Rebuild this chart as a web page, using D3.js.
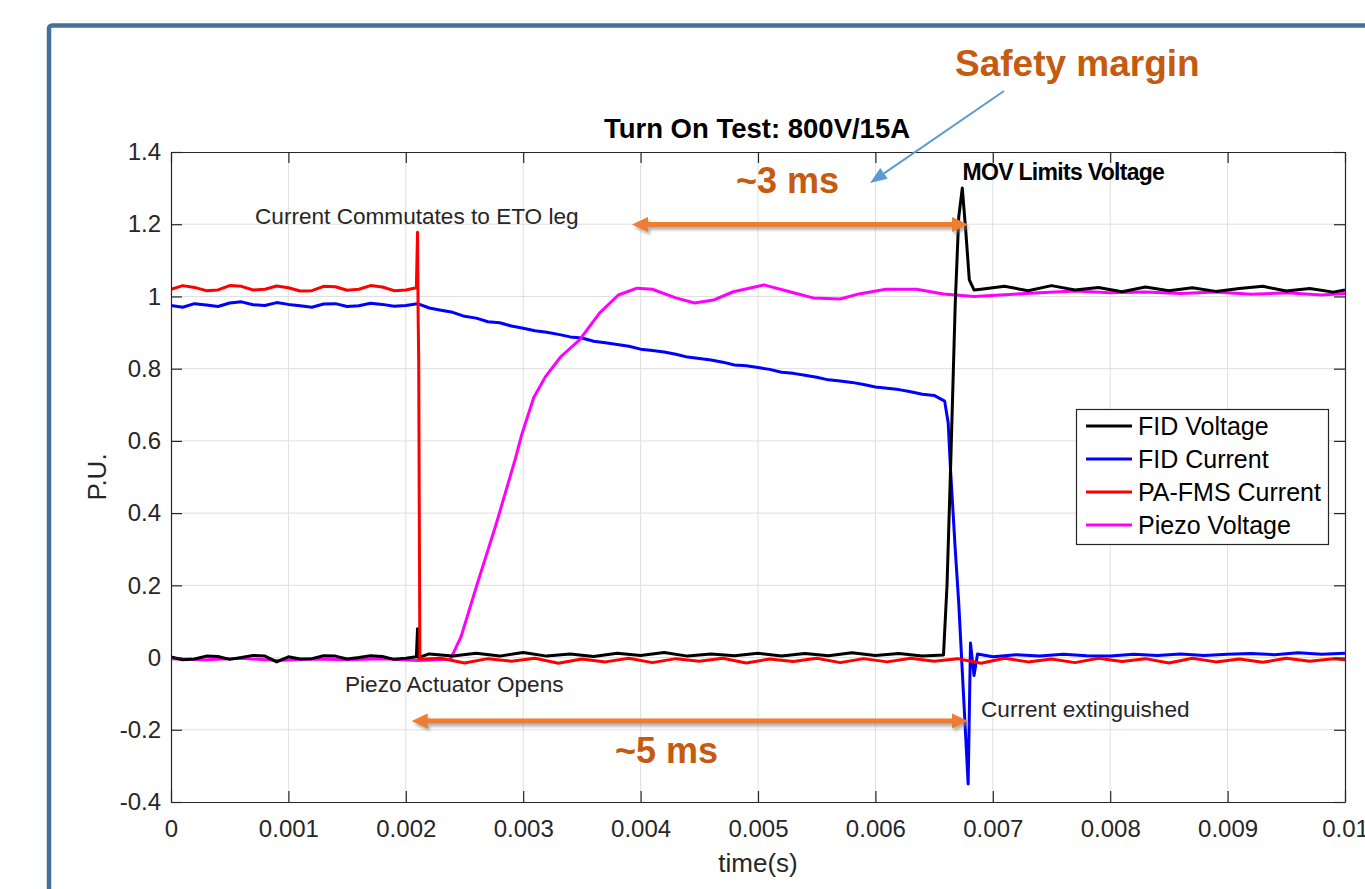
<!DOCTYPE html>
<html>
<head>
<meta charset="utf-8">
<script src="https://cdn.jsdelivr.net/npm/d3@7"></script>
<style>
  body { margin: 0; background: #fff; }
  svg { display: block; font-family: "Liberation Sans", Arial, sans-serif; }
</style>
</head>
<body>
<svg id="chart" width="1365" height="889"></svg>
<script>
// values (time in s, value in P.U.)
var fidVoltage = [
  [0,0.002],[0.0001,-0.006],[0.0002,-0.004],[0.0003,0.004],[0.0004,0.003],[0.0005,-0.005],[0.0006,0.0],
  [0.0007,0.006],[0.0008,0.004],[0.0009,-0.012],[0.001,0.002],[0.0011,-0.004],[0.0012,-0.003],[0.0013,0.005],
  [0.0014,0.004],[0.0015,-0.004],[0.0016,0.0],[0.0017,0.005],[0.0018,0.003],[0.0019,-0.005],[0.002,-0.002],
  [0.00209,0.002],[0.0021,0.08],[0.002105,0.0],[0.0022,0.01],[0.0024,0.004],[0.0026,0.012],[0.0028,0.004],
  [0.003,0.014],[0.0032,0.004],[0.0034,0.01],[0.0036,0.003],[0.0038,0.012],[0.004,0.006],[0.0042,0.014],
  [0.0044,0.004],[0.0046,0.01],[0.0048,0.005],[0.005,0.012],[0.0052,0.004],[0.0054,0.011],[0.0056,0.005],
  [0.0058,0.013],[0.006,0.006],[0.0062,0.011],[0.0064,0.004],[0.00658,0.007],[0.00661,0.2],[0.00664,0.52],
  [0.00668,0.98],[0.00671,1.22],[0.00674,1.30],[0.00677,1.18],[0.0068,1.046],[0.00684,1.018],[0.0069,1.02],
  [0.0071,1.028],[0.0073,1.016],[0.0075,1.03],[0.0077,1.018],[0.0079,1.025],[0.0081,1.013],[0.0083,1.026],
  [0.0085,1.016],[0.0087,1.024],[0.0089,1.014],[0.0091,1.022],[0.0093,1.028],[0.0095,1.015],[0.0097,1.022],
  [0.0099,1.012],[0.01,1.018]
];
var fidCurrent = [
  [0,0.975],[0.0001,0.97],[0.0002,0.98],[0.0003,0.976],[0.0004,0.972],[0.0005,0.982],[0.0006,0.985],
  [0.0007,0.977],[0.0008,0.975],[0.0009,0.983],[0.001,0.978],[0.0011,0.974],[0.0012,0.97],[0.0013,0.979],
  [0.0014,0.98],[0.0015,0.972],[0.0016,0.974],[0.0017,0.981],[0.0018,0.978],[0.0019,0.973],[0.002,0.975],
  [0.0021,0.98],[0.0022,0.968],[0.0023,0.962],[0.0024,0.956],[0.0025,0.945],[0.0026,0.94],[0.0027,0.93],
  [0.0028,0.927],[0.0029,0.918],[0.003,0.912],[0.0031,0.905],[0.0032,0.901],[0.0033,0.895],[0.0034,0.888],
  [0.0035,0.885],[0.0036,0.876],[0.0037,0.872],[0.0038,0.867],[0.0039,0.862],[0.004,0.854],[0.0041,0.85],
  [0.0042,0.846],[0.0043,0.84],[0.0044,0.832],[0.0045,0.828],[0.0046,0.824],[0.0047,0.818],[0.0048,0.81],
  [0.0049,0.808],[0.005,0.803],[0.0051,0.798],[0.0052,0.79],[0.0053,0.787],[0.0054,0.782],[0.0055,0.776],
  [0.0056,0.769],[0.0057,0.766],[0.0058,0.762],[0.0059,0.756],[0.006,0.749],[0.0061,0.746],[0.0062,0.742],
  [0.0063,0.736],[0.0064,0.729],[0.0065,0.726],[0.00659,0.71],
  [0.00662,0.65],[0.00664,0.52],[0.00668,0.3],[0.00671,0.15],[0.00675,-0.1],[0.00679,-0.35],[0.00681,0.04],
  [0.00684,-0.05],[0.00687,0.01],[0.007,0.002],[0.0072,0.008],[0.0074,0.004],[0.0076,0.009],[0.0078,0.005],
  [0.008,0.004],[0.0082,0.009],[0.0084,0.006],[0.0086,0.01],[0.0088,0.006],[0.009,0.009],[0.0092,0.011],
  [0.0094,0.008],[0.0096,0.013],[0.0098,0.009],[0.01,0.012]
];
var paFmsCurrent = [
  [0,1.02],[0.0001,1.03],[0.0002,1.025],[0.0003,1.016],[0.0004,1.018],[0.0005,1.03],[0.0006,1.028],
  [0.0007,1.018],[0.0008,1.02],[0.0009,1.029],[0.001,1.024],[0.0011,1.015],[0.0012,1.016],[0.0013,1.028],
  [0.0014,1.027],[0.0015,1.017],[0.0016,1.02],[0.0017,1.03],[0.0018,1.026],[0.0019,1.016],[0.002,1.018],
  [0.00209,1.024],[0.0021,1.178],[0.002105,0.95],
  [0.00211,0.82],[0.002115,0.38],[0.00212,-0.005],[0.0023,-0.002],[0.0025,-0.015],[0.0027,-0.003],
  [0.0029,-0.01],[0.0031,-0.002],[0.0033,-0.016],[0.0035,-0.004],[0.0037,-0.012],[0.0039,-0.002],
  [0.0041,-0.014],[0.0043,-0.003],[0.0045,-0.01],[0.0047,-0.002],[0.0049,-0.015],[0.0051,-0.004],
  [0.0053,-0.011],[0.0055,-0.002],[0.0057,-0.014],[0.0059,-0.003],[0.0061,-0.012],[0.0063,-0.002],
  [0.0065,-0.01],[0.0067,-0.003],[0.0069,-0.016],[0.0071,-0.002],[0.0073,-0.012],[0.0075,-0.004],
  [0.0077,-0.014],[0.0079,-0.002],[0.0081,-0.011],[0.0083,-0.003],[0.0085,-0.015],[0.0087,-0.002],
  [0.0089,-0.012],[0.0091,-0.004],[0.0093,-0.013],[0.0095,-0.002],[0.0097,-0.01],[0.0099,-0.003],[0.01,-0.006]
];
var piezoVoltage = [
  [0,-0.003],[0.0003,-0.006],[0.0006,-0.002],[0.0009,-0.008],[0.0012,-0.004],[0.0015,-0.006],[0.0018,-0.003],
  [0.0021,-0.008],[0.00238,-0.005],[0.00247,0.057],[0.0026,0.195],[0.00277,0.37],[0.00293,0.547],
  [0.00299,0.62],[0.00309,0.72],[0.00319,0.778],[0.00332,0.833],[0.00348,0.88],[0.00365,0.954],
  [0.00381,1.004],[0.00397,1.023],[0.0041,1.02],[0.0043,0.996],[0.00446,0.982],[0.00462,0.99],
  [0.00479,1.013],[0.00505,1.032],[0.00527,1.013],[0.00547,0.996],[0.0057,0.993],[0.00586,1.007],
  [0.00609,1.02],[0.00635,1.02],[0.00658,1.007],[0.00684,1.0],[0.0071,1.005],[0.0074,1.01],[0.0077,1.015],
  [0.008,1.01],[0.0083,1.012],[0.0086,1.008],[0.0089,1.012],[0.0092,1.006],[0.0095,1.01],[0.0098,1.004],[0.01,1.008]
];

var seriesNames = ["FID Voltage", "FID Current", "PA-FMS Current", "Piezo Voltage"];
var seriesColors = ["#000000", "#0000ff", "#ff0000", "#ff00ff"];
var seriesData = [fidVoltage, fidCurrent, paFmsCurrent, piezoVoltage];
var drawOrder = [1, 3, 0, 2];

var xTicks = [0, 0.001, 0.002, 0.003, 0.004, 0.005, 0.006, 0.007, 0.008, 0.009, 0.01];
var xTickLabels = ["0", "0.001", "0.002", "0.003", "0.004", "0.005", "0.006", "0.007", "0.008", "0.009", "0.01"];
var yTicks = [-0.4, -0.2, 0, 0.2, 0.4, 0.6, 0.8, 1, 1.2, 1.4];
var yTickLabels = ["-0.4", "-0.2", "0", "0.2", "0.4", "0.6", "0.8", "1", "1.2", "1.4"];

var svg = d3.select("#chart");
var pLeft = 171, pRight = 1345, pTop = 152, pBottom = 802;
var x = d3.scaleLinear().domain([0, 0.01]).range([pLeft, pRight]);
var y = d3.scaleLinear().domain([-0.4, 1.4]).range([pBottom, pTop]);
var axisColor = "#262626";

// slide frame
svg.append("rect")
    .attr("x", 49).attr("y", 25.5)
    .attr("width", 1400).attr("height", 1000)
    .attr("rx", 3)
    .attr("fill", "none")
    .attr("stroke", "#41719c")
    .attr("stroke-width", 4.5);

var defs = svg.append("defs");
defs.append("filter").attr("id", "shadow")
    .attr("x", "-10%").attr("y", "-100%").attr("width", "120%").attr("height", "300%")
  .append("feDropShadow")
    .attr("dx", 2).attr("dy", 3).attr("stdDeviation", 1.5)
    .attr("flood-color", "#808080").attr("flood-opacity", 0.6);
defs.append("clipPath").attr("id", "plotclip")
  .append("rect").attr("x", pLeft).attr("y", pTop).attr("width", pRight - pLeft).attr("height", pBottom - pTop);

// grid
var grid = svg.append("g");
grid.selectAll(".gx").data(xTicks.slice(1, -1)).enter().append("line")
    .attr("x1", function(d) { return x(d); }).attr("x2", function(d) { return x(d); })
    .attr("y1", pTop).attr("y2", pBottom)
    .attr("stroke", "#dfdfdf").attr("stroke-width", 1);
grid.selectAll(".gy").data(yTicks.slice(1, -1)).enter().append("line")
    .attr("y1", function(d) { return y(d); }).attr("y2", function(d) { return y(d); })
    .attr("x1", pLeft).attr("x2", pRight)
    .attr("stroke", "#dfdfdf").attr("stroke-width", 1);

// series
var line = d3.line()
    .x(function(d) { return x(d[0]); })
    .y(function(d) { return y(d[1]); });

var plot = svg.append("g").attr("clip-path", "url(#plotclip)");
drawOrder.forEach(function(i) {
    plot.append("path")
        .datum(seriesData[i])
        .attr("d", line)
        .attr("fill", "none")
        .attr("stroke", seriesColors[i])
        .attr("stroke-width", 3)
        .attr("stroke-linejoin", "round");
});

// axes, MATLAB style: ticks inside, box all round
function styleAxis(g) {
    g.select(".domain").attr("stroke", axisColor).attr("stroke-width", 1.2);
    g.selectAll(".tick line").attr("stroke", axisColor).attr("stroke-width", 1.2);
    g.selectAll(".tick text").attr("fill", axisColor)
        .style("font-family", "Liberation Sans, Arial, sans-serif").style("font-size", "24px");
}

svg.append("g").attr("transform", "translate(0," + pBottom + ")")
    .call(d3.axisBottom(x).tickValues(xTicks).tickSizeInner(-11).tickSizeOuter(0).tickPadding(18)
        .tickFormat(function(d, i) { return xTickLabels[i]; }))
    .call(styleAxis);
svg.append("g").attr("transform", "translate(0," + pTop + ")")
    .call(d3.axisTop(x).tickValues(xTicks).tickSizeInner(-11).tickSizeOuter(0).tickFormat(""))
    .call(styleAxis);
svg.append("g").attr("transform", "translate(" + pLeft + ",0)")
    .call(d3.axisLeft(y).tickValues(yTicks).tickSizeInner(-11).tickSizeOuter(0).tickPadding(10)
        .tickFormat(function(d, i) { return yTickLabels[i]; }))
    .call(styleAxis);
svg.append("g").attr("transform", "translate(" + pRight + ",0)")
    .call(d3.axisRight(y).tickValues(yTicks).tickSizeInner(-11).tickSizeOuter(0).tickFormat(""))
    .call(styleAxis);

// titles
svg.append("text")
    .attr("x", 757).attr("y", 138)
    .attr("text-anchor", "middle")
    .style("font-size", "27.5px").style("font-weight", "bold")
    .attr("fill", "#000")
    .text("Turn On Test: 800V/15A");
svg.append("text")
    .attr("x", 758).attr("y", 872)
    .attr("text-anchor", "middle")
    .style("font-size", "26px")
    .attr("fill", axisColor)
    .text("time(s)");
svg.append("text")
    .attr("transform", "translate(106," + ((pTop + pBottom) / 2) + ") rotate(-90)")
    .attr("text-anchor", "middle")
    .style("font-size", "26px")
    .attr("fill", axisColor)
    .text("P.U.");

// legend
var lg = svg.append("g");
lg.append("rect")
    .attr("x", 1076.5).attr("y", 409.5).attr("width", 252).attr("height", 135)
    .attr("fill", "#fff").attr("stroke", axisColor).attr("stroke-width", 1.2);
seriesNames.forEach(function(name, i) {
    var cy = 426 + i * 33;
    lg.append("line")
        .attr("x1", 1086).attr("x2", 1132).attr("y1", cy).attr("y2", cy)
        .attr("stroke", seriesColors[i]).attr("stroke-width", 3);
    lg.append("text")
        .attr("x", 1138).attr("y", cy + 9)
        .style("font-size", "25px")
        .attr("fill", "#000")
        .text(name);
});

// annotations
var notes = [
    { t: 0.000716, v: 1.2, text: "Current Commutates to ETO leg" },
    { t: 0.001482, v: -0.096, text: "Piezo Actuator Opens" },
    { t: 0.0069, v: -0.165, text: "Current extinguished" }
];
notes.forEach(function(n) {
    svg.append("text")
        .attr("x", x(n.t)).attr("y", y(n.v))
        .style("font-size", "22.6px")
        .attr("fill", axisColor)
        .text(n.text);
});
svg.append("text")
    .attr("x", x(0.006742)).attr("y", y(1.323))
    .style("font-size", "23px").style("font-weight", "bold")
    .style("letter-spacing", "-0.7px")
    .attr("fill", "#000")
    .text("MOV Limits Voltage");

var orangeText = "#c55a11", orangeArrow = "#ed7d31";
function arrowBoth(t1, t2, v) {
    var x1 = x(t1), x2 = x(t2), yy = y(v), hl = 16, hw = 7.5;
    var g = svg.append("g").attr("filter", "url(#shadow)");
    g.append("line")
        .attr("x1", x1 + hl - 2).attr("x2", x2 - hl + 2).attr("y1", yy).attr("y2", yy)
        .attr("stroke", orangeArrow).attr("stroke-width", 5);
    g.append("path")
        .attr("d", "M" + x1 + "," + yy + "L" + (x1 + hl) + "," + (yy - hw) + "L" + (x1 + hl) + "," + (yy + hw) + "Z")
        .attr("fill", orangeArrow);
    g.append("path")
        .attr("d", "M" + x2 + "," + yy + "L" + (x2 - hl) + "," + (yy - hw) + "L" + (x2 - hl) + "," + (yy + hw) + "Z")
        .attr("fill", orangeArrow);
}
arrowBoth(0.003927, 0.006789, 1.199);
arrowBoth(0.00205, 0.006789, -0.176);

svg.append("text")
    .attr("x", 736).attr("y", 193)
    .style("font-size", "36px").style("font-weight", "bold")
    .attr("fill", orangeText)
    .text("~3 ms");
svg.append("text")
    .attr("x", 615).attr("y", 763)
    .style("font-size", "36px").style("font-weight", "bold")
    .attr("fill", orangeText)
    .text("~5 ms");
svg.append("text")
    .attr("x", 955).attr("y", 76)
    .style("font-size", "37px").style("font-weight", "bold")
    .attr("fill", orangeText)
    .text("Safety margin");

// callout line from "Safety margin" to the ~3 ms span
var cx1 = 1004, cy1 = 91, cx2 = 870, cy2 = 183;
var ang = Math.atan2(cy2 - cy1, cx2 - cx1), hL = 17, hW = 6.5;
var bx = cx2 - hL * Math.cos(ang), by = cy2 - hL * Math.sin(ang);
svg.append("line")
    .attr("x1", cx1).attr("y1", cy1).attr("x2", bx).attr("y2", by)
    .attr("stroke", "#5b9bd5").attr("stroke-width", 2);
svg.append("path")
    .attr("d", "M" + cx2 + "," + cy2 +
        "L" + (bx + hW * Math.sin(ang)) + "," + (by - hW * Math.cos(ang)) +
        "L" + (bx - hW * Math.sin(ang)) + "," + (by + hW * Math.cos(ang)) + "Z")
    .attr("fill", "#5b9bd5");
</script>
</body>
</html>
